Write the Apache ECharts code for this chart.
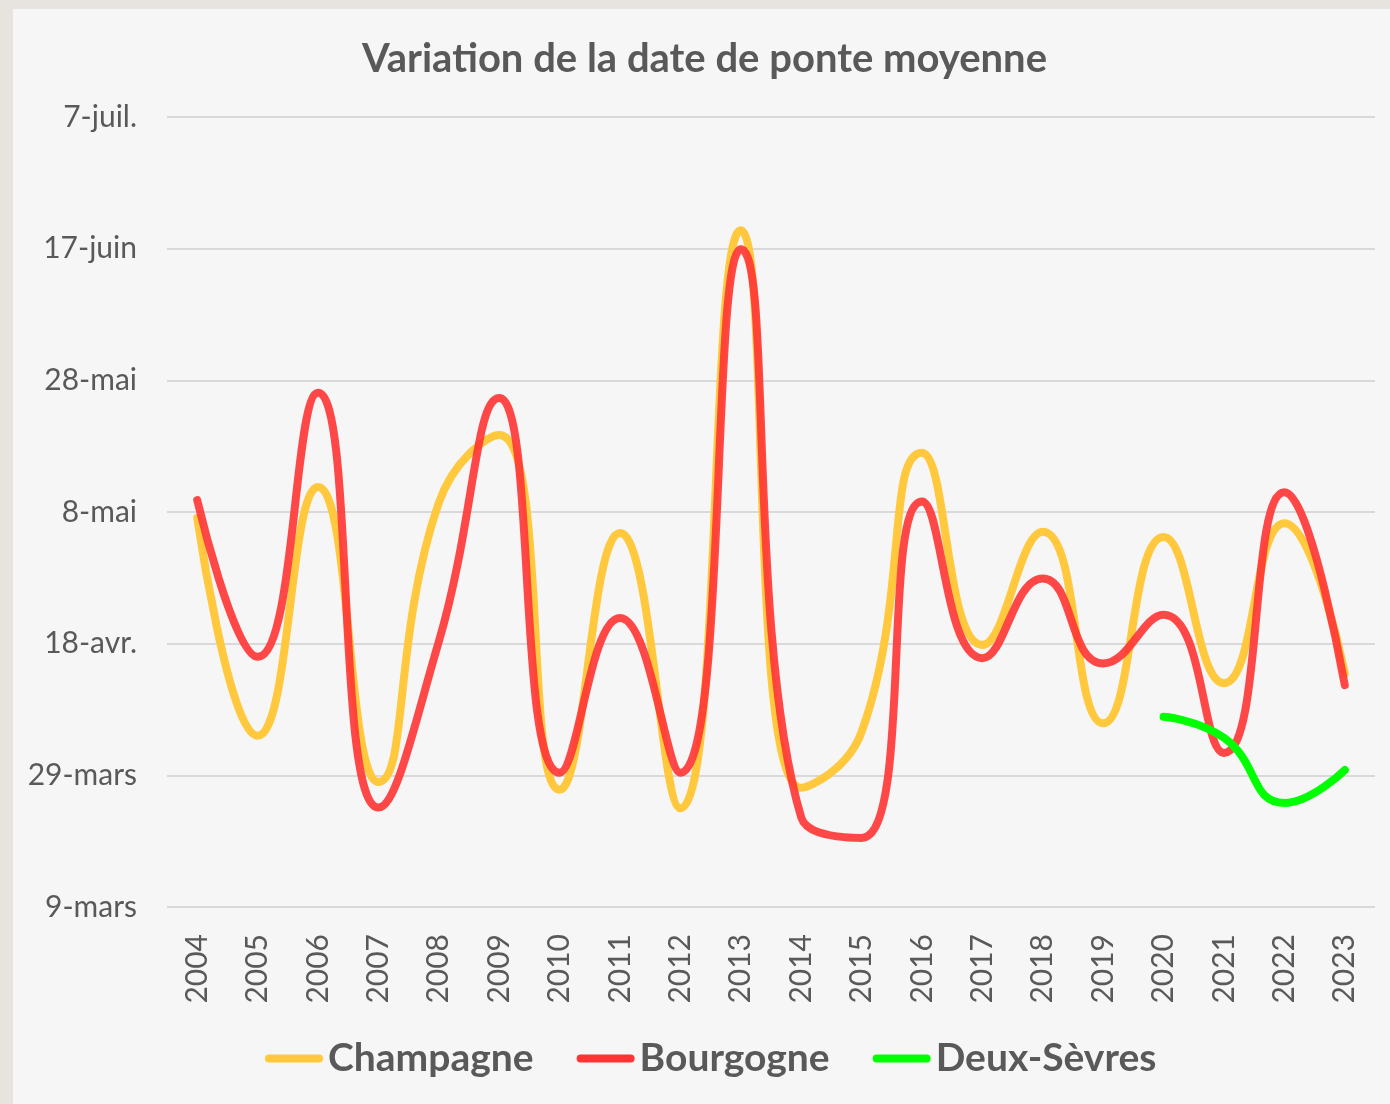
<!DOCTYPE html>
<html>
<head>
<meta charset="utf-8">
<script src="https://cdn.jsdelivr.net/npm/echarts@6/dist/echarts.min.js"></script>
<style>
  html, body { margin: 0; padding: 0; }
  body { width: 1390px; height: 1104px; background: #e7e4df; position: relative; overflow: hidden; }
  #panel { position: absolute; left: 13px; top: 9px; width: 1377px; height: 1095px; background: #f6f6f6; }
  #chart { position: absolute; left: 0; top: 0; width: 1390px; height: 1104px; }
</style>
</head>
<body>
<div id="panel"></div>
<div id="chart"></div>
<script>
// Years (categories)
const years = ['2004','2005','2006','2007','2008','2009','2010','2011','2012','2013',
               '2014','2015','2016','2017','2018','2019','2020','2021','2022','2023'];

// Y tick labels (every 20 days, starting 9 March)
const yTickLabels = ['9-mars','29-mars','18-avr.','8-mai','28-mai','17-juin','7-juil.'];

// Values = days after 9 March
const champagne = [59.1, 26.0, 63.8, 19.0, 61.4, 71.7, 17.8, 56.8, 15.0, 102.8,
                   18.1, 26.6, 69.0, 39.8, 57.0, 27.9, 56.2, 34.0, 58.3, 35.5];
const bourgogne = [61.8, 38.0, 78.1, 15.1, 40.3, 77.3, 20.4, 43.9, 20.4, 99.9,
                   13.6, 10.5, 61.6, 37.8, 49.9, 37.0, 44.4, 23.4, 63.0, 33.7];
const deuxSevres = [null, null, null, null, null, null, null, null, null, null,
                    null, null, null, null, null, null, 28.9, 25.7, 15.8, 20.8];

const chart = echarts.init(document.getElementById('chart'), null, { renderer: 'canvas' });
const font = 'Lato, "Open Sans", sans-serif';
const pill = 'path://M4,0L54,0A4,4,0,0,1,54,8L4,8A4,4,0,0,1,4,0Z';

chart.setOption({
  backgroundColor: 'transparent',
  animation: false,
  title: {
    text: 'Variation de la date de ponte moyenne',
    left: 362,
    top: 39,
    padding: 0,
    textStyle: { fontFamily: font, fontSize: 40, fontWeight: 'bold', color: '#595959' }
  },
  legend: {
    top: 1039,
    left: 265,
    padding: 0,
    itemWidth: 58,
    itemHeight: 8,
    itemGap: 43,
    icon: pill,
    textStyle: { fontFamily: font, fontSize: 39, fontWeight: 'bold', color: '#595959' },
    data: ['Champagne', 'Bourgogne', 'Deux-Sèvres']
  },
  grid: { left: 167, right: 15, top: 117, bottom: 197 },
  xAxis: {
    type: 'category',
    data: years,
    boundaryGap: true,
    axisLine: { show: false },
    axisTick: { show: false },
    axisLabel: { rotate: 90, interval: 0, margin: 27, fontFamily: font, fontSize: 30, color: '#595959' }
  },
  yAxis: {
    type: 'value',
    min: 0,
    max: 120,
    interval: 20,
    axisLine: { show: false },
    axisTick: { show: false },
    axisLabel: {
      margin: 30, fontFamily: font, fontSize: 30, color: '#595959',
      formatter: function (v) { return yTickLabels[Math.round(v / 20)]; }
    },
    splitLine: { lineStyle: { color: '#d9d9d9', width: 2 } }
  },
  series: [
    {
      name: 'Champagne', type: 'line', data: champagne, smooth: 0.5, symbol: 'none',
      color: '#ffc83d',
      lineStyle: { width: 8, color: '#ffc83d', cap: 'round', join: 'round' }
    },
    {
      name: 'Bourgogne', type: 'line', data: bourgogne, smooth: 0.5, symbol: 'none',
      color: '#ff3535',
      lineStyle: { width: 8, color: '#ff3535', opacity: 0.9, cap: 'round', join: 'round' }
    },
    {
      name: 'Deux-Sèvres', type: 'line', data: deuxSevres, smooth: 0.5, symbol: 'none',
      color: '#00ff00', connectNulls: false,
      lineStyle: { width: 8, color: '#00ff00', cap: 'round', join: 'round' }
    }
  ]
});
</script>
</body>
</html>
